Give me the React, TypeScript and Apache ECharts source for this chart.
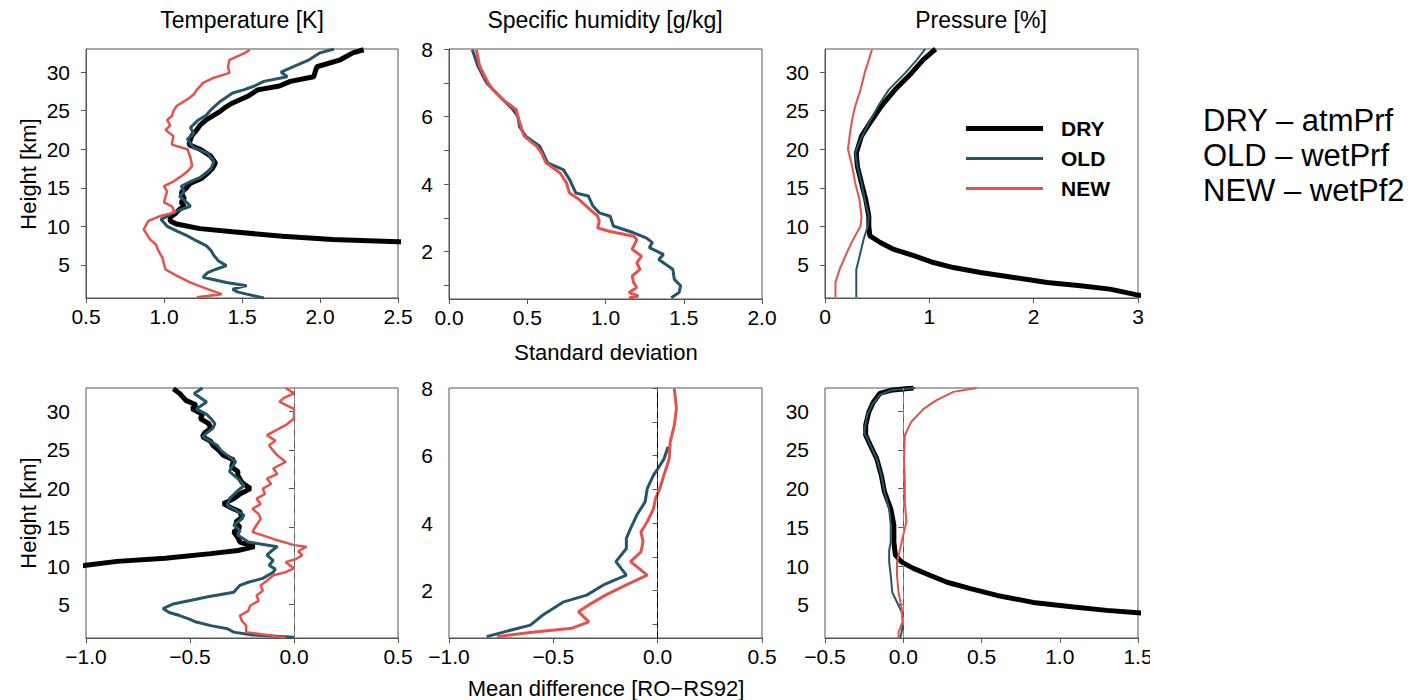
import React, { useEffect, useRef } from "react";
import * as echarts from "echarts";

const FONT = "'Liberation Sans', Arial, Helvetica, sans-serif";
const C_DRY = "#000000";
const C_OLD = "#23566a";
const C_NEW = "#e5514b";

// ---- Panel titles / labels ----
const columnTitles = ["Temperature [K]", "Specific humidity [g/kg]", "Pressure [%]"];
const rowTitles = ["Standard deviation", "Mean difference [RO\u2212RS92]"];
const yName = "Height [km]";
const seriesNames = ["DRY", "OLD", "NEW"];
const sideNotes = ["DRY \u2013 atmPrf", "OLD \u2013 wetPrf", "NEW \u2013 wetPf2"];
const kmTicks = [5, 10, 15, 20, 25, 30];
const qLabelTicks = [2, 4, 6, 8];
const qMinorTicks = [1, 2, 3, 4, 5, 6, 7, 8];

// ---- Temperature, standard deviation ----
const tStdDryH = [32.9, 32.5, 31.6, 30.7, 30.1, 29.4, 28.8, 28.2, 27.7, 26.9, 26.0, 25.4, 24.9, 23.8, 23.1, 22.5, 21.8, 21.3, 20.6, 20.0, 19.1, 18.2, 17.5, 16.9, 16.2, 15.6, 14.9, 14.4, 13.6, 13.1, 12.6, 12.2, 11.6, 11.2, 10.7, 10.3, 9.7, 9.3, 8.7, 8.3, 8.0, 7.6];
const tStdDryV = [2.28, 2.21, 2.13, 1.98, 1.97, 1.96, 1.81, 1.74, 1.60, 1.54, 1.44, 1.39, 1.36, 1.27, 1.23, 1.21, 1.18, 1.17, 1.16, 1.23, 1.30, 1.33, 1.31, 1.28, 1.24, 1.17, 1.14, 1.11, 1.13, 1.11, 1.13, 1.10, 1.07, 1.04, 1.04, 1.08, 1.23, 1.44, 1.76, 2.08, 2.5, 3.0];
const tStdOldH = [33.0, 32.5, 31.6, 30.7, 30.0, 29.4, 28.8, 28.2, 27.7, 27.3, 26.2, 25.1, 24.4, 23.8, 22.8, 22.0, 21.3, 20.2, 19.5, 18.4, 17.4, 16.3, 15.7, 15.2, 14.5, 13.9, 13.2, 12.6, 11.8, 11.3, 10.9, 10.0, 9.4, 8.75, 8.1, 7.5, 6.9, 6.2, 5.5, 4.9, 4.4, 4.0, 3.4, 2.7, 2.3, 1.85, 1.5, 1.2, 0.7];
const tStdOldV = [2.09, 2.0, 1.93, 1.83, 1.75, 1.79, 1.64, 1.58, 1.51, 1.44, 1.36, 1.30, 1.27, 1.22, 1.17, 1.19, 1.15, 1.19, 1.28, 1.32, 1.30, 1.23, 1.16, 1.11, 1.13, 1.10, 1.14, 1.17, 1.06, 1.02, 0.98, 1.02, 1.08, 1.15, 1.21, 1.27, 1.30, 1.32, 1.35, 1.40, 1.33, 1.28, 1.25, 1.40, 1.53, 1.44, 1.47, 1.53, 1.64];
const tStdNewH = [32.9, 32.5, 31.6, 30.7, 29.9, 29.2, 28.6, 27.7, 27.1, 26.6, 25.6, 24.9, 24.3, 23.8, 23.1, 22.5, 21.7, 20.6, 20.0, 18.9, 17.8, 17.1, 16.5, 15.8, 15.2, 14.5, 13.9, 13.1, 12.6, 11.8, 11.3, 10.7, 9.6, 8.3, 7.6, 7.0, 5.9, 5.1, 4.4, 3.6, 2.7, 1.85, 1.2, 0.8];
const tStdNewV = [1.55, 1.52, 1.42, 1.41, 1.42, 1.31, 1.25, 1.21, 1.19, 1.16, 1.08, 1.06, 1.05, 1.02, 1.04, 1.01, 1.06, 1.05, 1.15, 1.17, 1.18, 1.15, 1.11, 1.06, 1.0, 1.02, 1.01, 1.0, 1.05, 1.07, 0.97, 0.9, 0.87, 0.91, 0.95, 0.96, 0.99, 1.0, 1.01, 1.08, 1.17, 1.28, 1.37, 1.21];

// ---- Specific humidity, standard deviation ----
const qStdOldH = [7.98, 7.49, 7.0, 6.8, 6.5, 6.2, 6.0, 5.71, 5.42, 5.12, 4.93, 4.63, 4.43, 4.14, 3.74, 3.65, 3.35, 3.15, 3.05, 2.76, 2.56, 2.41, 2.27, 2.12, 1.92, 1.77, 1.48, 1.18, 0.99, 0.79, 0.64];
const qStdOldV = [0.149, 0.185, 0.24, 0.28, 0.345, 0.41, 0.44, 0.45, 0.49, 0.58, 0.60, 0.63, 0.73, 0.77, 0.81, 0.89, 0.92, 0.96, 1.03, 1.05, 1.18, 1.26, 1.30, 1.28, 1.37, 1.34, 1.43, 1.44, 1.48, 1.47, 1.42];
const qStdNewH = [7.98, 7.49, 7.0, 6.8, 6.5, 6.2, 6.0, 5.71, 5.42, 5.12, 4.93, 4.63, 4.33, 4.04, 3.74, 3.55, 3.25, 3.05, 2.9, 2.7, 2.6, 2.46, 2.36, 2.07, 1.87, 1.67, 1.48, 1.28, 1.08, 0.94, 0.79, 0.69, 0.63];
const qStdNewV = [0.175, 0.196, 0.25, 0.28, 0.345, 0.43, 0.44, 0.46, 0.48, 0.56, 0.59, 0.62, 0.71, 0.75, 0.77, 0.83, 0.90, 0.95, 0.96, 0.95, 1.03, 1.18, 1.20, 1.17, 1.23, 1.20, 1.22, 1.17, 1.18, 1.20, 1.15, 1.21, 1.15];

// ---- Pressure, standard deviation ----
const pStdDryH = [33.0, 31.6, 29.9, 27.7, 25.6, 23.4, 21.7, 19.5, 17.8, 15.6, 13.5, 11.3, 10.0, 8.75, 7.9, 7.0, 6.2, 5.3, 4.65, 4.0, 3.36, 2.7, 2.3, 1.85, 1.4, 1.08, 0.9];
const pStdDryV = [1.06, 0.94, 0.83, 0.67, 0.54, 0.43, 0.35, 0.30, 0.31, 0.35, 0.39, 0.42, 0.42, 0.43, 0.53, 0.66, 0.85, 1.04, 1.23, 1.49, 1.81, 2.13, 2.45, 2.73, 2.89, 3.0, 3.1];
const pStdOldH = [33.0, 31.6, 29.9, 27.7, 25.6, 23.4, 21.25, 19.5, 17.8, 15.6, 13.5, 11.3, 10.0, 8.3, 6.6, 4.4, 2.7, 0.8];
const pStdOldV = [0.96, 0.88, 0.77, 0.61, 0.51, 0.42, 0.34, 0.29, 0.31, 0.35, 0.38, 0.42, 0.41, 0.37, 0.34, 0.30, 0.30, 0.30];
const pStdNewH = [32.9, 31.6, 29.9, 27.7, 25.6, 23.8, 22.1, 20.0, 17.8, 15.6, 13.5, 11.3, 10.0, 8.3, 6.6, 4.4, 2.7, 0.8];
const pStdNewV = [0.45, 0.42, 0.38, 0.34, 0.29, 0.26, 0.24, 0.22, 0.26, 0.29, 0.33, 0.35, 0.34, 0.27, 0.21, 0.14, 0.10, 0.10];

// ---- Temperature, mean difference ----
const tMeanDryH = [32.9, 32.3, 31.4, 30.8, 30.3, 29.6, 29.05, 28.4, 27.8, 27.2, 26.7, 26.1, 25.6, 24.9, 24.3, 23.7, 22.8, 22.2, 21.7, 20.8, 20.0, 19.3, 18.7, 18.06, 17.5, 17.0, 16.3, 15.7, 15.0, 14.4, 13.7, 13.1, 12.5, 12.0, 11.6, 11.0, 10.6, 10.1, 9.7];
const tMeanDryV = [-0.58, -0.55, -0.52, -0.47, -0.49, -0.44, -0.45, -0.41, -0.40, -0.43, -0.44, -0.40, -0.39, -0.36, -0.34, -0.29, -0.30, -0.27, -0.27, -0.25, -0.21, -0.26, -0.29, -0.34, -0.30, -0.26, -0.25, -0.28, -0.26, -0.29, -0.27, -0.26, -0.19, -0.27, -0.40, -0.62, -0.85, -1.0, -1.1];
const tMeanOldH = [33.0, 32.3, 31.2, 30.3, 29.6, 29.05, 28.4, 27.8, 27.2, 26.7, 26.1, 25.6, 24.9, 24.3, 23.45, 22.8, 22.2, 21.3, 20.4, 19.5, 18.7, 17.8, 17.2, 16.55, 15.9, 15.3, 14.6, 14.0, 13.1, 12.5, 11.9, 11.4, 10.7, 10.1, 9.6, 9.2, 8.4, 7.9, 7.5, 6.6, 6.0, 5.1, 4.5, 4.0, 3.6, 3.1, 2.76, 2.3, 1.9, 1.46, 1.1, 0.8];
const tMeanOldV = [-0.44, -0.48, -0.42, -0.47, -0.42, -0.40, -0.38, -0.39, -0.42, -0.44, -0.40, -0.37, -0.35, -0.32, -0.28, -0.30, -0.31, -0.27, -0.24, -0.28, -0.31, -0.32, -0.28, -0.24, -0.26, -0.29, -0.26, -0.27, -0.22, -0.08, -0.11, -0.13, -0.10, -0.12, -0.09, -0.10, -0.15, -0.22, -0.26, -0.29, -0.42, -0.58, -0.63, -0.60, -0.55, -0.50, -0.47, -0.40, -0.32, -0.29, -0.20, 0.0];
const tMeanNewH = [33.0, 32.3, 31.7, 31.2, 30.3, 29.05, 28.2, 27.5, 26.9, 26.2, 25.6, 24.9, 24.3, 23.45, 22.6, 21.9, 21.3, 20.6, 20.0, 19.3, 18.7, 18.0, 17.4, 16.7, 16.1, 15.3, 14.4, 13.5, 12.7, 12.5, 11.9, 11.4, 10.9, 10.5, 9.7, 9.2, 8.8, 8.1, 7.5, 6.8, 6.2, 5.5, 4.9, 4.2, 3.6, 2.9, 2.3, 1.46, 1.1, 0.75];
const tMeanNewV = [-0.04, 0.0, -0.05, -0.07, 0.0, 0.0, -0.04, -0.09, -0.13, -0.09, -0.12, -0.10, -0.08, -0.04, -0.10, -0.08, -0.13, -0.11, -0.15, -0.14, -0.18, -0.16, -0.20, -0.17, -0.16, -0.18, -0.20, -0.10, 0.0, 0.06, 0.02, 0.04, 0.01, -0.04, 0.0, -0.04, -0.10, -0.13, -0.16, -0.15, -0.18, -0.17, -0.21, -0.22, -0.26, -0.25, -0.23, -0.23, -0.13, -0.04];

// ---- Specific humidity, mean difference ----
const qMeanOldH = [6.26, 5.9, 5.6, 5.42, 5.02, 4.63, 4.24, 3.84, 3.55, 3.25, 2.86, 2.46, 2.17, 1.87, 1.67, 1.28, 0.98, 0.79, 0.64];
const qMeanOldV = [0.05, 0.03, 0.0, -0.02, -0.05, -0.06, -0.10, -0.13, -0.15, -0.15, -0.20, -0.15, -0.26, -0.34, -0.45, -0.55, -0.61, -0.73, -0.82];
const qMeanNewH = [7.98, 7.39, 6.9, 6.4, 5.9, 5.42, 5.02, 4.73, 4.43, 4.04, 3.74, 3.45, 3.15, 2.86, 2.66, 2.46, 2.17, 1.87, 1.58, 1.38, 1.08, 0.89, 0.77, 0.64];
const qMeanNewV = [0.08, 0.09, 0.08, 0.06, 0.055, 0.03, 0.01, -0.01, -0.02, -0.05, -0.08, -0.07, -0.08, -0.13, -0.09, -0.05, -0.15, -0.25, -0.33, -0.38, -0.33, -0.41, -0.60, -0.77];

// ---- Pressure, mean difference ----
const pMeanDryH = [33.0, 32.7, 32.3, 31.2, 29.9, 28.2, 26.9, 25.6, 23.9, 21.7, 19.6, 17.4, 15.3, 13.1, 11.4, 10.5, 9.7, 8.8, 7.9, 7.07, 6.2, 5.3, 4.7, 4.27, 3.97, 3.8];
const pMeanDryV = [0.065, -0.08, -0.15, -0.19, -0.22, -0.24, -0.24, -0.21, -0.17, -0.14, -0.12, -0.08, -0.06, -0.06, -0.05, -0.01, 0.065, 0.17, 0.28, 0.43, 0.60, 0.83, 1.09, 1.30, 1.5, 1.6];
const pMeanOldH = [33.0, 32.7, 32.1, 30.8, 29.5, 27.3, 25.6, 23.9, 21.7, 19.6, 17.4, 15.3, 13.1, 12.0, 10.5, 8.8, 6.6, 4.9, 4.05, 2.76, 1.47, 0.7];
const pMeanOldV = [0.075, -0.08, -0.15, -0.20, -0.23, -0.25, -0.21, -0.17, -0.14, -0.12, -0.09, -0.08, -0.08, -0.09, -0.09, -0.08, -0.07, -0.03, -0.01, 0.0, -0.01, -0.02];
const pMeanNewH = [33.0, 32.5, 31.4, 30.3, 28.6, 26.9, 23.9, 20.9, 18.3, 15.7, 14.0, 12.2, 10.5, 8.8, 6.6, 4.5, 2.76, 1.47, 0.7];
const pMeanNewV = [0.47, 0.32, 0.21, 0.13, 0.05, 0.01, 0.005, 0.01, 0.01, 0.02, 0.0, -0.02, -0.04, -0.04, -0.03, -0.01, -0.005, -0.03, -0.03];

const zip = (h: number[], v: number[]) => h.map((y, i) => [v[i], y]);

const fmt1 = (v: number) => (v < 0 ? "\u2212" + Math.abs(v).toFixed(1) : v.toFixed(1));
const fmt0 = (v: number) => String(Math.round(v));

type S = { name: string; h: number[]; v: number[]; w: number; color: string };
type Panel = {
  left: number; top: number; width: number; height: number;
  xMin: number; xMax: number; xInt: number; xFmt: (v: number) => string;
  km: boolean; zero?: { color: string; dash: number[] };
  series: S[];
};

const panels: Panel[] = [
  { left: 86, top: 49, width: 312, height: 249, xMin: 0.5, xMax: 2.5, xInt: 0.5, xFmt: fmt1, km: true,
    series: [
      { name: "DRY", h: tStdDryH, v: tStdDryV, w: 5, color: C_DRY },
      { name: "OLD", h: tStdOldH, v: tStdOldV, w: 3, color: C_OLD },
      { name: "NEW", h: tStdNewH, v: tStdNewV, w: 2.5, color: C_NEW },
    ] },
  { left: 449, top: 49, width: 313, height: 250, xMin: 0, xMax: 2, xInt: 0.5, xFmt: fmt1, km: false,
    series: [
      { name: "OLD", h: qStdOldH, v: qStdOldV, w: 3, color: C_OLD },
      { name: "NEW", h: qStdNewH, v: qStdNewV, w: 3, color: C_NEW },
    ] },
  { left: 825, top: 49, width: 313, height: 249, xMin: 0, xMax: 3, xInt: 1, xFmt: fmt0, km: true,
    series: [
      { name: "DRY", h: pStdDryH, v: pStdDryV, w: 5, color: C_DRY },
      { name: "OLD", h: pStdOldH, v: pStdOldV, w: 2, color: C_OLD },
      { name: "NEW", h: pStdNewH, v: pStdNewV, w: 2, color: C_NEW },
    ] },
  { left: 86, top: 388, width: 312, height: 250, xMin: -1, xMax: 0.5, xInt: 0.5, xFmt: fmt1, km: true,
    zero: { color: "#888888", dash: [8, 5] },
    series: [
      { name: "DRY", h: tMeanDryH, v: tMeanDryV, w: 5, color: C_DRY },
      { name: "OLD", h: tMeanOldH, v: tMeanOldV, w: 3, color: C_OLD },
      { name: "NEW", h: tMeanNewH, v: tMeanNewV, w: 2.5, color: C_NEW },
    ] },
  { left: 449, top: 388, width: 313, height: 250, xMin: -1, xMax: 0.5, xInt: 0.5, xFmt: fmt1, km: false,
    zero: { color: "#000000", dash: [6, 4] },
    series: [
      { name: "OLD", h: qMeanOldH, v: qMeanOldV, w: 3, color: C_OLD },
      { name: "NEW", h: qMeanNewH, v: qMeanNewV, w: 3, color: C_NEW },
    ] },
  { left: 825, top: 388, width: 313, height: 250, xMin: -0.5, xMax: 1.5, xInt: 0.5, xFmt: fmt1, km: true,
    zero: { color: "#888888", dash: [8, 5] },
    series: [
      { name: "DRY", h: pMeanDryH, v: pMeanDryV, w: 5, color: C_DRY },
      { name: "OLD", h: pMeanOldH, v: pMeanOldV, w: 2, color: C_OLD },
      { name: "NEW", h: pMeanNewH, v: pMeanNewV, w: 2, color: C_NEW },
    ] },
];

function buildOption() {
  const AX = "#555555";
  const grid = panels.map((p) => ({
    left: p.left, top: p.top, width: p.width, height: p.height,
    show: true, borderColor: AX, borderWidth: 1, backgroundColor: "transparent", containLabel: false,
  }));
  const xAxis = panels.map((p, i) => ({
    type: "value", gridIndex: i, min: p.xMin, max: p.xMax, interval: p.xInt,
    axisLine: { show: true, lineStyle: { color: AX, width: 1 } },
    axisTick: { show: true, length: 5, lineStyle: { color: AX } },
    axisLabel: { show: true, fontSize: 21, color: "#000", fontFamily: FONT, margin: 8,
      showMinLabel: true, showMaxLabel: true, formatter: p.xFmt },
    splitLine: { show: false },
  }));
  const yAxis = panels.map((p, i) => ({
    type: "value", gridIndex: i,
    min: p.km ? 0.7 : 0.6, max: p.km ? 33 : 8,
    axisLine: { show: true, lineStyle: { color: AX, width: 1 } },
    axisTick: { show: true, length: 5, lineStyle: { color: AX }, customValues: p.km ? kmTicks : qMinorTicks },
    axisLabel: { show: true, fontSize: 21, color: "#000", fontFamily: FONT, margin: 16,
      customValues: p.km ? kmTicks : qLabelTicks, formatter: (v: number) => String(v) },
    splitLine: { show: false },
  }));
  const series: any[] = [];
  panels.forEach((p, i) => {
    p.series.forEach((s, j) => {
      const item: any = {
        type: "line", name: s.name, xAxisIndex: i, yAxisIndex: i,
        data: zip(s.h, s.v), symbol: "none", showSymbol: false, clip: true,
        lineStyle: { color: s.color, width: s.w }, itemStyle: { color: s.color },
        emphasis: { disabled: true }, silent: true, z: 2 + j,
      };
      if (j === 0 && p.zero) {
        item.markLine = {
          silent: true, symbol: ["none", "none"], label: { show: false },
          lineStyle: { color: p.zero.color, type: p.zero.dash, width: 1 },
          emphasis: { disabled: true },
          data: [{ xAxis: 0 }],
        };
      }
      series.push(item);
    });
  });

  const txt = (x: number, y: number, text: string, size: number, extra: any = {}) => ({
    type: "text", x, y, z: 50, ...extra,
    style: { text, fontSize: size, fontFamily: FONT, fill: "#000", align: "center", verticalAlign: "middle", ...(extra.style || {}) },
  });

  const graphic: any[] = [
    txt(242, 20, columnTitles[0], 23),
    txt(605, 20, columnTitles[1], 23),
    txt(981, 20, columnTitles[2], 23),
    txt(606, 352, rowTitles[0], 22),
    txt(606, 688, rowTitles[1], 22),
    txt(28, 174, yName, 22, { rotation: Math.PI / 2 }),
    txt(28, 513, yName, 22, { rotation: Math.PI / 2 }),
    txt(1203, 120, sideNotes[0], 31, { style: { align: "left" } }),
    txt(1203, 155, sideNotes[1], 31, { style: { align: "left" } }),
    txt(1203, 190, sideNotes[2], 31, { style: { align: "left" } }),
    { type: "rect", z: 60, shape: { x: 1150, y: 648, width: 20, height: 30 }, style: { fill: "#fff" } },
  ];

  return {
    animation: false,
    backgroundColor: "#ffffff",
    grid, xAxis, yAxis, series, graphic,
    legend: {
      show: true, selectedMode: false, orient: "vertical", left: 961, top: 113,
      itemWidth: 77, itemHeight: 14, itemGap: 9, symbolKeepAspect: true,
      textStyle: { fontSize: 21, fontWeight: "bold", color: "#000", fontFamily: FONT, padding: [0, 0, 0, 13] },
      data: [
        { name: seriesNames[0], icon: "path://M0 0H77V5H0Z", itemStyle: { color: C_DRY } },
        { name: seriesNames[1], icon: "path://M0 0H77V3H0Z", itemStyle: { color: C_OLD } },
        { name: seriesNames[2], icon: "path://M0 0H77V3H0Z", itemStyle: { color: C_NEW } },
      ],
    },
  };
}

export default function App() {
  const ref = useRef<HTMLDivElement>(null);
  useEffect(() => {
    if (!ref.current) return;
    const chart = echarts.init(ref.current, null, { renderer: "svg" });
    chart.setOption(buildOption() as any);
    return () => chart.dispose();
  }, []);
  return (
    <div
      ref={ref}
      style={{ position: "fixed", left: 0, top: 0, width: 1415, height: 700, background: "#fff" }}
    />
  );
}
